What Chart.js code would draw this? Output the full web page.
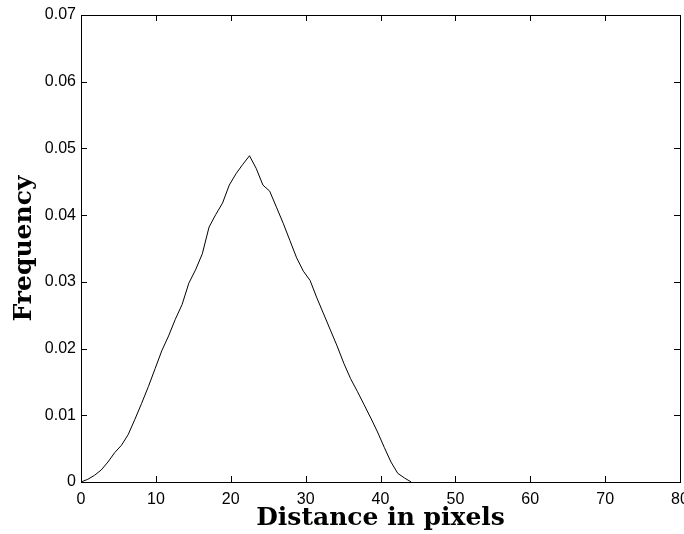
<!DOCTYPE html>
<html>
<head>
<meta charset="utf-8">
<script src="https://cdn.jsdelivr.net/npm/chart.js@4/dist/chart.umd.min.js"></script>
<style>
  html, body { margin: 0; padding: 0; background: #fff; }
  #wrap { width: 684px; height: 534px; }
</style>
</head>
<body>
<div id="wrap"><canvas id="distChart" width="684" height="534"></canvas></div>
<script>
// distances (pixels) and the frequency
const distances = [0, 0.9, 1.8, 2.7, 3.6, 4.5, 5.4, 6.3, 7.2, 8.1, 9.0, 9.9, 10.8, 11.7, 12.6, 13.5, 14.4, 15.3, 16.2, 17.1,
    18.0, 18.9, 19.8, 20.7, 21.6, 22.5, 23.4, 24.3, 25.2, 26.1, 27.0, 27.9, 28.8, 29.7, 30.6, 31.5, 32.4, 33.3, 34.2, 35.1,
    36.0, 36.9, 37.8, 38.7, 39.6, 40.5, 41.4, 42.3, 43.2, 44.1];
const frequencies = [0, 0.0004, 0.0010, 0.0018, 0.0030, 0.0044, 0.0055, 0.0071, 0.0094, 0.0118, 0.0143, 0.0170, 0.0197, 0.0219,
    0.0244, 0.0266, 0.0298, 0.0318, 0.0342, 0.0382, 0.0401, 0.0418, 0.0445, 0.0462, 0.0476, 0.0489, 0.0470, 0.0445, 0.0436,
    0.0412, 0.0388, 0.0362, 0.0336, 0.0316, 0.0302, 0.0276, 0.0252, 0.0228, 0.0204, 0.0178, 0.0155, 0.0136, 0.0116, 0.0096,
    0.0075, 0.0052, 0.0030, 0.0013, 0.0006, 0];
const xTicks = [0, 10, 20, 30, 40, 50, 60, 70, 80];
const yTicks = [0, 0.01, 0.02, 0.03, 0.04, 0.05, 0.06, 0.07];

const points = distances.map((d, i) => ({ x: d, y: frequencies[i] }));

// box round the plot with ticks pointing inwards, matlab style
const boxTicks = {
    id: 'boxTicks',
    afterDraw(chart) {
        const ctx = chart.ctx;
        const a = chart.chartArea;
        const xs = chart.scales.x;
        const ys = chart.scales.y;
        const len = 6;
        ctx.save();
        ctx.strokeStyle = '#000';
        ctx.lineWidth = 1;
        ctx.beginPath();
        xTicks.forEach(v => {
            const px = Math.round(xs.getPixelForValue(v)) + 0.5;
            ctx.moveTo(px, a.bottom); ctx.lineTo(px, a.bottom - len);
            ctx.moveTo(px, a.top); ctx.lineTo(px, a.top + len);
        });
        yTicks.forEach(v => {
            const py = Math.round(ys.getPixelForValue(v)) + 0.5;
            ctx.moveTo(a.left, py); ctx.lineTo(a.left + len, py);
            ctx.moveTo(a.right, py); ctx.lineTo(a.right - len, py);
        });
        ctx.stroke();
        ctx.strokeRect(Math.round(a.left) + 0.5, Math.round(a.top) + 0.5,
            Math.round(a.right - a.left), Math.round(a.bottom - a.top));
        ctx.restore();
    }
};

const tickFont = { family: 'Liberation Sans', size: 16 };
const titleFont = { family: 'DejaVu Serif', size: 25, weight: 'bold' };

const ctx = document.getElementById('distChart').getContext('2d');
new Chart(ctx, {
    type: 'scatter',
    data: {
        datasets: [{
            data: points,
            showLine: true,
            borderColor: '#000',
            borderWidth: 1,
            pointRadius: 0,
            tension: 0
        }]
    },
    options: {
        responsive: false,
        animation: false,
        layout: { padding: { top: 15, right: 4, left: 0, bottom: 0 } },
        scales: {
            x: {
                type: 'linear',
                min: 0,
                max: 80,
                grid: { display: false, drawTicks: false },
                border: { display: false },
                afterBuildTicks: s => { s.ticks = xTicks.map(v => ({ value: v })); },
                afterFit: s => { s.height = 52; s.paddingLeft = 0; s.paddingRight = 0; },
                ticks: { color: '#000', font: tickFont, padding: 8, maxRotation: 0 },
                title: { display: true, text: 'Distance in pixels', color: '#000', font: titleFont, padding: { top: 0, bottom: 1 } }
            },
            y: {
                min: 0,
                max: 0.07,
                grid: { display: false, drawTicks: false },
                border: { display: false },
                afterBuildTicks: s => { s.ticks = yTicks.map(v => ({ value: v })); },
                afterFit: s => { s.width = 81; s.paddingTop = 0; s.paddingBottom = 0; },
                ticks: {
                    color: '#000', font: tickFont, padding: 5,
                    callback: v => v === 0 ? '0' : v.toFixed(2)
                },
                title: { display: true, text: 'Frequency', color: '#000', font: titleFont, padding: { top: 9, bottom: 0 } }
            }
        },
        plugins: {
            legend: { display: false },
            tooltip: { enabled: false }
        }
    },
    plugins: [boxTicks]
});
</script>
</body>
</html>
